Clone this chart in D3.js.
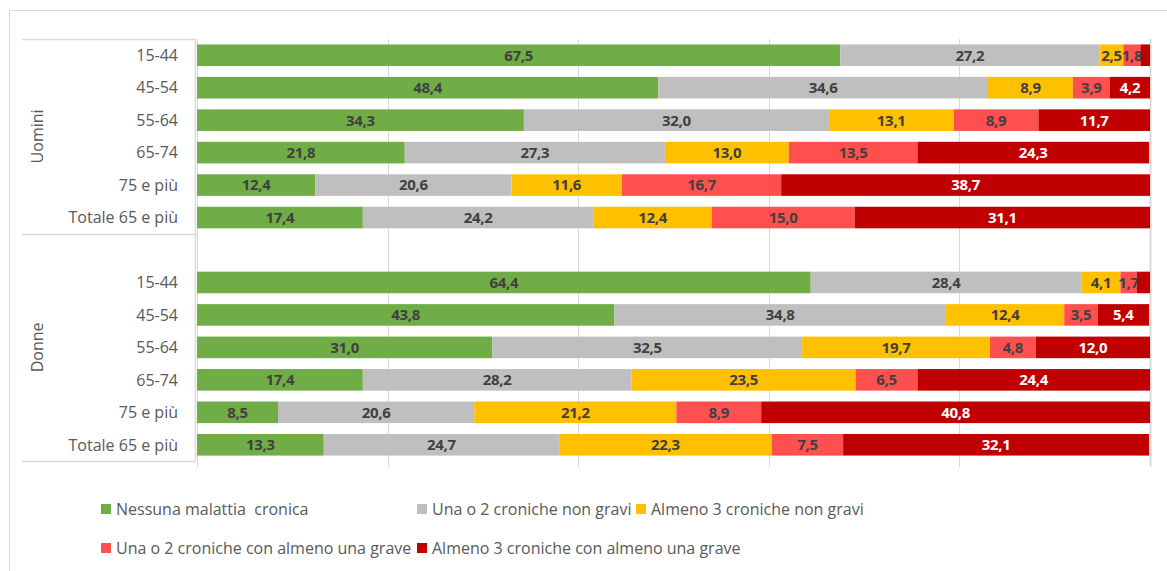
<!DOCTYPE html>
<html>
<head>
<meta charset="utf-8">
<script src="https://cdn.jsdelivr.net/npm/d3@7/dist/d3.min.js"></script>
<style>
  html, body { margin: 0; padding: 0; background: #fff; }
  svg { display: block; font-family: "Open Sans", Lato, sans-serif; }
</style>
</head>
<body>
<svg id="chart" width="1167" height="571"></svg>
<script>
// Age classes, shown for each sex group
const groups = ["Uomini", "Donne"];
const ageClasses = ["15-44", "45-54", "55-64", "65-74", "75 e più", "Totale 65 e più"];

// Series (chronic disease status), share in %
const seriesNames = [
  "Nessuna malattia  cronica",
  "Una o 2 croniche non gravi",
  "Almeno 3 croniche non gravi",
  "Una o 2 croniche con almeno una grave",
  "Almeno 3 croniche con almeno una grave"
];
const seriesColors = ["#70AD47", "#BFBFBF", "#FFC000", "#FF5050", "#C00000"];
const labelColors = ["#404040", "#404040", "#404040", "#404040", "#FFFFFF"];

// Values per age class, one array per series
const uominiNessuna   = [67.5, 48.4, 34.3, 21.8, 12.4, 17.4];
const uominiUna2      = [27.2, 34.6, 32.0, 27.3, 20.6, 24.2];
const uominiAlmeno3   = [2.5, 8.9, 13.1, 13.0, 11.6, 12.4];
const uominiUna2Grave = [1.8, 3.9, 8.9, 13.5, 16.7, 15.0];
const uominiAlm3Grave = [1.0, 4.2, 11.7, 24.3, 38.7, 31.1];

const donneNessuna    = [64.4, 43.8, 31.0, 17.4, 8.5, 13.3];
const donneUna2       = [28.4, 34.8, 32.5, 28.2, 20.6, 24.7];
const donneAlmeno3    = [4.1, 12.4, 19.7, 23.5, 21.2, 22.3];
const donneUna2Grave  = [1.7, 3.5, 4.8, 6.5, 8.9, 7.5];
const donneAlm3Grave  = [1.4, 5.4, 12.0, 24.4, 40.8, 32.1];

const xTicks = [0, 20, 40, 60, 80, 100];

const seriesByGroup = {
  "Uomini": [uominiNessuna, uominiUna2, uominiAlmeno3, uominiUna2Grave, uominiAlm3Grave],
  "Donne":  [donneNessuna, donneUna2, donneAlmeno3, donneUna2Grave, donneAlm3Grave]
};

// Build rows: group, age class, with a blank spacer row between groups
const rows = [];
groups.forEach((g, gi) => {
  if (gi > 0) rows.push({ key: "spacer" + gi, spacer: true });
  ageClasses.forEach((a, ai) => {
    const vals = seriesByGroup[g].map(s => s[ai]);
    rows.push({ key: g + "|" + a, group: g, age: a, values: vals });
  });
});

const svg = d3.select("#chart");

// Outer chart frame
svg.append("rect")
  .attr("x", 9.5).attr("y", 10.5)
  .attr("width", 1170).attr("height", 600)
  .attr("fill", "none").attr("stroke", "#D9D9D9").attr("stroke-width", 1);

const plot = { left: 197, right: 1150, top: 39, bottom: 461 };

const x = d3.scaleLinear().domain([0, 100]).range([plot.left, plot.right]);
const y = d3.scaleBand()
  .domain(rows.map(r => r.key))
  .range([plot.top, plot.bottom])
  .paddingInner(0.335)
  .paddingOuter(0.1675);

// Vertical gridlines with small ticks below the plot
const grid = svg.append("g");
grid.selectAll("line")
  .data(xTicks)
  .join("line")
  .attr("x1", d => Math.round(x(d)) + 0.5)
  .attr("x2", d => Math.round(x(d)) + 0.5)
  .attr("y1", plot.top)
  .attr("y2", plot.bottom + 6)
  .attr("stroke", "#D9D9D9")
  .attr("stroke-width", d => d === 100 ? 2 : 1);

// Stacked bars
const barRows = rows.filter(r => !r.spacer);
const segs = [];
barRows.forEach(r => {
  let acc = 0;
  r.values.forEach((v, i) => {
    segs.push({ row: r, i, v, x0: acc, x1: acc + v });
    acc += v;
  });
});

svg.append("g").selectAll("rect")
  .data(segs)
  .join("rect")
  .attr("x", d => x(d.x0))
  .attr("y", d => y(d.row.key))
  .attr("width", d => Math.max(0, Math.min(x(d.x1), plot.right) - x(d.x0)))
  .attr("height", y.bandwidth())
  .attr("fill", d => seriesColors[d.i]);

// Value labels, centred in each segment wide enough to hold one
const fmt = v => d3.format(".1f")(v).replace(".", ",");
svg.append("g").selectAll("text")
  .data(segs.filter(d => x(d.x1) - x(d.x0) >= 15))
  .join("text")
  .attr("x", d => (x(d.x0) + Math.min(x(d.x1), plot.right)) / 2)
  .attr("y", d => y(d.row.key) + y.bandwidth() / 2)
  .attr("dy", "0.36em")
  .attr("text-anchor", "middle")
  .attr("font-size", 15)
  .attr("font-weight", 700)
  .attr("letter-spacing", -0.3)
  .attr("fill", d => labelColors[d.i])
  .text(d => fmt(d.v));

// Category axis: axis line, age class labels, group separators and group names
const axisColor = "#D9D9D9";
svg.append("line")
  .attr("x1", plot.left - 1.5).attr("x2", plot.left - 1.5)
  .attr("y1", plot.top).attr("y2", plot.bottom)
  .attr("stroke", axisColor).attr("stroke-width", 1.5);

svg.append("g").selectAll("text")
  .data(barRows)
  .join("text")
  .attr("x", 178)
  .attr("y", d => y(d.key) + y.bandwidth() / 2)
  .attr("dy", "0.36em")
  .attr("text-anchor", "end")
  .attr("font-size", 16)
  .attr("fill", "#595959")
  .text(d => d.age);

// Group boundaries along the category axis
const groupBounds = [plot.top];
groups.forEach(g => {
  const keys = barRows.filter(r => r.group === g).map(r => r.key);
  const last = keys[keys.length - 1];
  groupBounds.push(y(last) + y.bandwidth() + y.step() * y.paddingInner() / 2);
});
groupBounds[groupBounds.length - 1] = plot.bottom;

svg.append("g").selectAll("line")
  .data(groupBounds)
  .join("line")
  .attr("x1", 22).attr("x2", plot.left - 1.5)
  .attr("y1", d => Math.round(d) + 0.5)
  .attr("y2", d => Math.round(d) + 0.5)
  .attr("stroke", axisColor).attr("stroke-width", 1.5);

// Group names, rotated, next to their age classes
const groupAnchor = {
  "Uomini": () => (y("Uomini|55-64") + y("Uomini|65-74")) / 2 + y.bandwidth() / 2,
  "Donne": () => y("Donne|55-64") + y.bandwidth() / 2
};
svg.append("g").selectAll("text")
  .data(groups)
  .join("text")
  .attr("transform", g => `translate(37,${groupAnchor[g]()}) rotate(-90)`)
  .attr("dy", "0.36em")
  .attr("text-anchor", "middle")
  .attr("font-size", 16)
  .attr("fill", "#595959")
  .text(g => g);

// Legend
const legendPos = [
  { x: 101, y: 509 }, { x: 417, y: 509 }, { x: 636, y: 509 },
  { x: 101, y: 548 }, { x: 417, y: 548 }
];
const legend = svg.append("g").selectAll("g")
  .data(seriesNames)
  .join("g")
  .attr("transform", (d, i) => `translate(${legendPos[i].x},${legendPos[i].y})`);
legend.append("rect")
  .attr("x", 0).attr("y", -5)
  .attr("width", 10).attr("height", 10)
  .attr("fill", (d, i) => seriesColors[i]);
legend.append("text")
  .attr("x", 15)
  .attr("y", 0)
  .attr("dy", "0.36em")
  .attr("font-size", 16)
  .attr("fill", "#595959")
  .style("white-space", "pre")
  .text(d => d);
</script>
</body>
</html>
